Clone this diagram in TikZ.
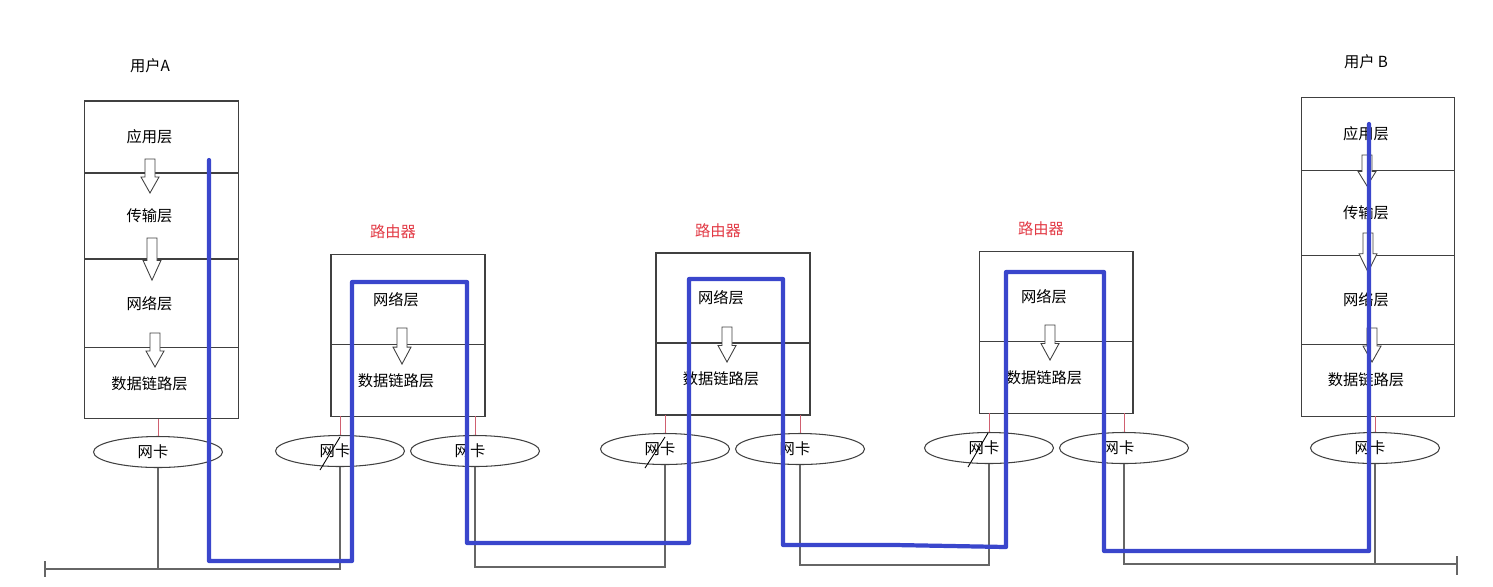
\documentclass[tikz,border=0pt]{standalone}
\usepackage{fontspec}
\setmainfont{Noto Sans CJK SC}
\usepackage{tikz}
\usetikzlibrary{positioning,shapes.geometric}
\definecolor{pathblue}{HTML}{3A46CC}
\definecolor{titlered}{HTML}{E23A45}
\definecolor{tickred}{HTML}{D06070}
\definecolor{wiregray}{HTML}{666666}

\begin{document}
\begin{tikzpicture}[x=0.02cm,y=-0.02cm,font=\fontsize{8.7pt}{10pt}\selectfont,
  layer/.style={draw=black!75,line width=0.6pt,minimum width=3.07cm,inner sep=0pt,outer sep=0pt},
  txt/.style={label={[xshift=-0.24cm]center:#1}},
  nic/.style={draw=black!75,line width=0.6pt,ellipse,minimum width=2.58cm,minimum height=0.62cm,inner sep=0pt,
    label={[xshift=-0.1cm]center:网卡}},
  hosttitle/.style={inner sep=0pt},
  rtitle/.style={inner sep=0pt,text=titlered},
  feed/.style={tickred,line width=0.5pt},
  wire/.style={wiregray,line width=0.8pt},
  trace/.style={pathblue,line width=2.4pt,line join=round,line cap=round},
  dnarrow/.pic={\draw[black!75,line width=0.5pt,fill=white] (-5,0) -- (-5,18) -- (-9,18) -- (0,34) -- (9,18) -- (5,18) -- (5,0) -- cycle;}]
  \useasboundingbox (0,0) rectangle (1493,586);

  % user A
  \node[hosttitle] (userA) at (150,66) {用户A};
  \node[layer,minimum height=1.44cm,txt=应用层] (appA) at (161.5,137) {};
  \node[layer,minimum height=1.72cm,below=0pt of appA,txt=传输层] (traA) {};
  \node[layer,minimum height=1.78cm,below=0pt of traA,txt=网络层] (netA) {};
  \node[layer,minimum height=1.42cm,below=0pt of netA,txt=数据链路层] (linkA) {};

  % routers
  \node[rtitle] (rtR1) at (393,232) {路由器};
  \node[layer,minimum width=3.08cm,minimum height=1.8cm,txt=网络层] (netR1) at (408,299.5) {};
  \node[layer,minimum width=3.08cm,minimum height=1.44cm,below=0pt of netR1,txt=数据链路层] (linkR1) {};
  \node[rtitle] (rtR2) at (718,231) {路由器};
  \node[layer,minimum width=3.08cm,minimum height=1.8cm,txt=网络层] (netR2) at (733,298) {};
  \node[layer,minimum width=3.08cm,minimum height=1.44cm,below=0pt of netR2,txt=数据链路层] (linkR2) {};
  \node[rtitle] (rtR3) at (1041,229) {路由器};
  \node[layer,minimum width=3.08cm,minimum height=1.8cm,txt=网络层] (netR3) at (1056,296.5) {};
  \node[layer,minimum width=3.08cm,minimum height=1.44cm,below=0pt of netR3,txt=数据链路层] (linkR3) {};

  % user B
  \node[hosttitle] (userB) at (1366,62) {用户 B};
  \node[layer,minimum height=1.45cm,txt=应用层] (appB) at (1378,134) {};
  \node[layer,minimum height=1.7cm,below=0pt of appB,txt=传输层] (traB) {};
  \node[layer,minimum height=1.78cm,below=0pt of traB,txt=网络层] (netB) {};
  \node[layer,minimum height=1.44cm,below=0pt of netB,txt=数据链路层] (linkB) {};

  \foreach \ax/\ay/\as in {150/159/1, 152/238/1.24, 155/333/1, 402/328/1.06, 727/327/1.03, 1050/325/1.03, 1367/155/0.91, 1368/233/1.15, 1372/328/1}
    \pic[yscale=\as] at (\ax,\ay) {dnarrow};

  % network cards
  \node[nic] (nicA) at (158,452) {};
  \node[nic] (nicR1a) at (340,451) {};
  \node[nic] (nicR1b) at (475,451) {};
  \node[nic] (nicR2a) at (665,449) {};
  \node[nic] (nicR2b) at (800,449) {};
  \node[nic] (nicR3a) at (989,448) {};
  \node[nic] (nicR3b) at (1124,448) {};
  \node[nic] (nicB) at (1375,448) {};

  \draw[feed] (nicA.north) -- (nicA.north |- linkA.south);
  \draw[feed] (nicR1a.north) -- (nicR1a.north |- linkR1.south);
  \draw[feed] (nicR1b.north) -- (nicR1b.north |- linkR1.south);
  \draw[feed] (nicR2a.north) -- (nicR2a.north |- linkR2.south);
  \draw[feed] (nicR2b.north) -- (nicR2b.north |- linkR2.south);
  \draw[feed] (nicR3a.north) -- (nicR3a.north |- linkR3.south);
  \draw[feed] (nicR3b.north) -- (nicR3b.north |- linkR3.south);
  \draw[feed] (nicB.north) -- (nicB.north |- linkB.south);

  \draw[black,line width=0.5pt] (320,470) -- (340,437);
  \draw[black,line width=0.5pt] (645,468) -- (665,437);
  \draw[black,line width=0.5pt] (968,467) -- (988,433);

  % cables
  \coordinate (busA) at (45,569);
  \coordinate (busB) at (0,567);
  \coordinate (busC) at (0,565);
  \coordinate (busD) at (1457,564);
  \draw[wire] (45,561) -- (45,577);
  \draw[wire] (busA) -- (nicR1a.south |- busA) -- (nicR1a.south);
  \draw[wire] (nicA.south) -- (nicA.south |- busA);
  \draw[wire] (nicR1b.south) -- (nicR1b.south |- busB) -- (nicR2a.south |- busB) -- (nicR2a.south);
  \draw[wire] (nicR2b.south) -- (nicR2b.south |- busC) -- (nicR3a.south |- busC) -- (nicR3a.south);
  \draw[wire] (nicR3b.south) -- (nicR3b.south |- busD) -- (busD);
  \draw[wire] (nicB.south) -- (nicB.south |- busD);
  \draw[wire] (1457,556) -- (1457,575);

  % data path
  \draw[trace] (209,160) -- (209,561) -- (352,561) -- (352,282) -- (467,282) -- (467,543)
    -- (689,543) -- (689,279) -- (783,279) -- (783,545) -- (895,545) -- (1006,547)
    -- (1006,272) -- (1104,272) -- (1104,551) -- (1369,551) -- (1369,124);
\end{tikzpicture}
\end{document}
